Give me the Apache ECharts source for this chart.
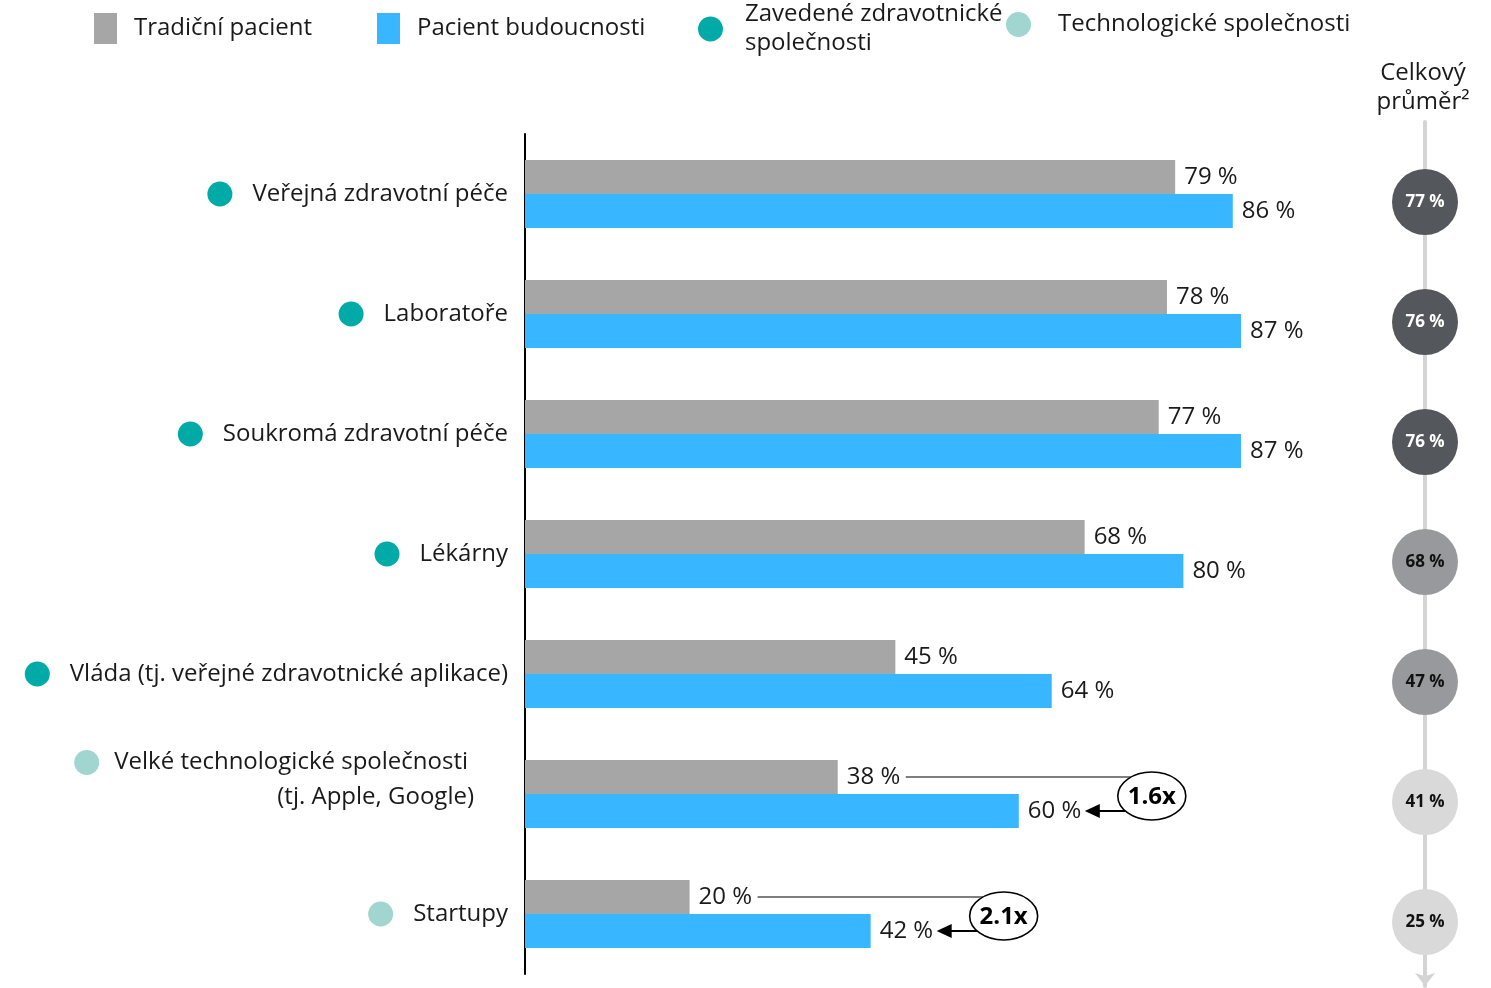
<!DOCTYPE html>
<html>
<head>
<meta charset="utf-8">
<script src="https://cdn.jsdelivr.net/npm/echarts@6/dist/echarts.min.js"></script>
<style>
  html, body { margin: 0; padding: 0; background: #fff; }
  #chart { width: 1491px; height: 988px; }
</style>
</head>
<body>
<div id="chart"></div>
<script>
// Categories (top to bottom) and which provider group each belongs to
const categories = [
  'Veřejná zdravotní péče',
  'Laboratoře',
  'Soukromá zdravotní péče',
  'Lékárny',
  'Vláda (tj. veřejné zdravotnické aplikace)',
  'Velké technologické společnosti\n(tj. Apple, Google)',
  'Startupy'
];
const groups = ['est', 'est', 'est', 'est', 'est', 'tech', 'tech'];

// Share of respondents, %
const traditional = [79, 78, 77, 68, 45, 38, 20];
const future = [86, 87, 87, 80, 64, 60, 42];
const overall = [77, 76, 76, 68, 47, 41, 25];

// Growth call-outs: category index, traditional %, future %
const callouts = [[5, 38, 60], [6, 20, 42]];
const calloutLabels = ['1.6x', '2.1x'];

const seriesNames = ['Tradiční pacient', 'Pacient budoucnosti'];
const groupNames = ['Zavedené zdravotnické společnosti', 'Technologické společnosti'];

const FONT = 'Open Sans';
const FS = 24;
const TEXT = '#1a1a1a';
const GREY = '#a6a6a6';
const BLUE = '#38b6ff';
const TEAL = '#00aaa6';
const TEAL_LIGHT = '#a0d5d0';
const BAR_W = 34;

function avgColor(v) {
  if (v >= 70) return '#54575c';
  if (v >= 45) return '#97999c';
  return '#d9d9d9';
}

const chart = echarts.init(document.getElementById('chart'));

const legendText = { fontFamily: FONT, fontSize: FS, color: TEXT, lineHeight: 29, padding: [0, 0, 0, 12] };
const legendBase = { orient: 'horizontal', padding: 0, itemWidth: 23, itemHeight: 31, selectedMode: false, textStyle: legendText };

chart.setOption({
  textStyle: { fontFamily: FONT },
  animation: false,
  title: {
    text: 'Celkový\nprůměr²',
    left: 1418,
    top: 54,
    textAlign: 'center',
    textStyle: { fontFamily: FONT, fontSize: FS, fontWeight: 'normal', color: TEXT, lineHeight: 29 }
  },
  legend: [
    Object.assign({}, legendBase, { data: [{ name: seriesNames[0], icon: 'rect' }], left: 94, top: 13 }),
    Object.assign({}, legendBase, { data: [{ name: seriesNames[1], icon: 'rect' }], left: 377, top: 13 }),
    Object.assign({}, legendBase, {
      data: [{ name: groupNames[0], icon: 'circle' }], left: 698, top: 0, itemWidth: 25, itemHeight: 25,
      formatter: () => 'Zavedené zdravotnické\nspolečnosti',
      textStyle: Object.assign({}, legendText, { padding: [0, 0, 0, 17] })
    }),
    Object.assign({}, legendBase, {
      data: [{ name: groupNames[1], icon: 'circle' }], left: 1006, top: 10, itemWidth: 25, itemHeight: 25,
      textStyle: Object.assign({}, legendText, { padding: [0, 0, 0, 22] })
    })
  ],
  grid: [
    { left: 525, top: 134, width: 823, height: 840 },
    { left: 1395, top: 142, width: 60, height: 840 },
    { left: 1395, top: 122, width: 60, height: 864 }
  ],
  xAxis: [
    { type: 'value', gridIndex: 0, min: 0, max: 100, show: false },
    { type: 'value', gridIndex: 1, min: -1, max: 1, show: false },
    { type: 'value', gridIndex: 2, min: -1, max: 1, show: false }
  ],
  yAxis: [
    {
      type: 'category',
      gridIndex: 0,
      inverse: true,
      data: categories,
      axisLine: { show: true, lineStyle: { color: '#000', width: 2 } },
      axisTick: { show: false },
      axisLabel: {
        margin: 17,
        formatter: (value, idx) => {
          const dot = groups[idx] === 'est' ? '{d1|}' : '{d2|}';
          const lines = value.split('\n');
          if (lines.length === 1) return dot + '{t|' + value + '}';
          return dot + '{w|' + lines[0] + '}\n{w2|' + lines[1] + '}\n{sp| }';
        },
        rich: {
          d1: { width: 25, height: 25, borderRadius: 12.5, backgroundColor: TEAL },
          d2: { width: 25, height: 25, borderRadius: 12.5, backgroundColor: TEAL_LIGHT },
          t: { fontFamily: FONT, fontSize: FS, color: TEXT, padding: [0, 0, 0, 20] },
          w: { fontFamily: FONT, fontSize: FS, color: TEXT, padding: [0, 40, 0, 15], lineHeight: 35 },
          w2: { fontFamily: FONT, fontSize: FS, color: TEXT, padding: [0, 34, 0, 0], lineHeight: 35 },
          sp: { fontSize: 4, lineHeight: 28 }
        }
      }
    },
    {
      type: 'category',
      gridIndex: 1,
      inverse: true,
      data: categories,
      axisLine: { show: false },
      axisTick: { show: false },
      axisLabel: { show: false }
    },
    {
      // vertical guide with arrow behind the average bubbles
      type: 'value',
      gridIndex: 2,
      min: 0,
      max: 1,
      inverse: true,
      splitLine: { show: false },
      axisTick: { show: false },
      axisLabel: { show: false },
      axisLine: {
        show: true,
        onZero: true,
        symbol: ['arrow', 'none'],
        symbolSize: [15, 13],
        lineStyle: { color: '#d4d4d4', width: 4 }
      }
    }
  ],
  series: [
    {
      name: seriesNames[0],
      type: 'bar',
      data: traditional,
      barWidth: BAR_W,
      barGap: '0%',
      itemStyle: { color: GREY },
      label: { show: true, position: 'right', distance: 9, formatter: '{c} %', fontFamily: FONT, fontSize: FS, color: TEXT }
    },
    {
      name: seriesNames[1],
      type: 'bar',
      data: future,
      barWidth: BAR_W,
      barGap: '0%',
      itemStyle: { color: BLUE },
      label: { show: true, position: 'right', distance: 9, formatter: '{c} %', fontFamily: FONT, fontSize: FS, color: TEXT }
    },
    { name: groupNames[0], type: 'scatter', data: [], itemStyle: { color: TEAL, opacity: 1 } },
    { name: groupNames[1], type: 'scatter', data: [], itemStyle: { color: TEAL_LIGHT, opacity: 1 } },
    {
      // growth call-outs: leader line, arrow to the future value, ringed multiplier
      type: 'custom',
      xAxisIndex: 0,
      yAxisIndex: 0,
      data: callouts,
      encode: { x: [1, 2], y: 0 },
      clip: false,
      z: 5,
      renderItem: (params, api) => {
        const cat = api.value(0);
        const yc = api.coord([0, cat])[1];
        const xFrom = api.coord([api.value(1), cat])[0];
        const xTo = api.coord([api.value(2), cat])[0];
        const lineY = yc - BAR_W / 2;
        const arrowY = yc + BAR_W / 2;
        const cx = xTo + 133;
        const cy = yc + 2;
        const tip = xTo + 66;
        return {
          type: 'group',
          children: [
            { type: 'line', shape: { x1: xFrom + 68, y1: lineY, x2: cx, y2: lineY }, style: { stroke: '#000', lineWidth: 1.2 } },
            { type: 'line', shape: { x1: tip + 10, y1: arrowY, x2: cx, y2: arrowY }, style: { stroke: '#000', lineWidth: 2.2 } },
            { type: 'polygon', shape: { points: [[tip, arrowY], [tip + 15, arrowY - 7], [tip + 15, arrowY + 7]] }, style: { fill: '#000' } },
            { type: 'ellipse', shape: { cx: cx, cy: cy, rx: 34, ry: 24 }, style: { fill: '#fff', stroke: '#000', lineWidth: 1.6 } },
            {
              type: 'text',
              style: {
                x: cx, y: cy + 1, text: calloutLabels[params.dataIndex], align: 'center', verticalAlign: 'middle',
                fontFamily: FONT, fontSize: FS, fontWeight: 'bold', fill: '#000'
              }
            }
          ]
        };
      }
    },
    {
      // overall average bubbles
      type: 'scatter',
      xAxisIndex: 1,
      yAxisIndex: 1,
      symbol: 'circle',
      symbolSize: 66,
      z: 5,
      data: overall.map((v, i) => ({
        value: [0, i, v],
        itemStyle: { color: avgColor(v), opacity: 1 },
        label: { color: v >= 70 ? '#fff' : '#111' }
      })),
      label: {
        show: true,
        position: 'inside',
        formatter: (p) => p.value[2] + ' %',
        fontFamily: FONT,
        fontSize: 17,
        fontWeight: 'bold'
      }
    }
  ]
});
</script>
</body>
</html>
